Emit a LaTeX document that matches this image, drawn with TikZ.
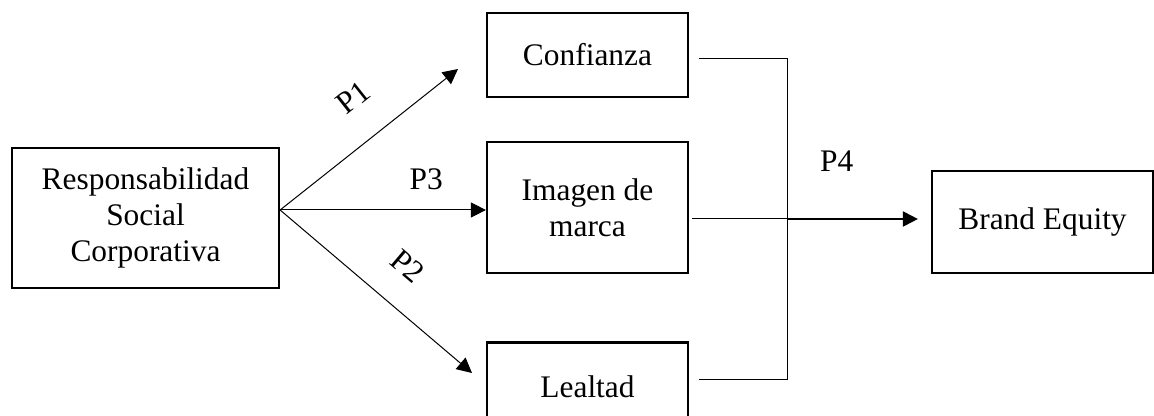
\documentclass[tikz,border=0pt]{standalone}
\usepackage{fontspec}
\setmainfont{Liberation Serif}
\usetikzlibrary{arrows.meta,positioning}

\begin{document}
\begin{tikzpicture}[
        x=0.5pt, y=-0.5pt,
        box/.style={rectangle, draw=black, line width=1.1pt, align=center,
            inner sep=2pt, font=\fontsize{15.7}{18}\selectfont},
        arr/.style={-{Triangle[length=7.5pt,width=7.5pt]}, line width=0.5pt},
        link/.style={line width=0.5pt},
        lbl/.style={font=\fontsize{15.7}{18}\selectfont, sloped, inner sep=1pt}
    ]
    \useasboundingbox (0,0) rectangle (1154,416);

    \node[box, minimum width=133.5pt, minimum height=70pt] (rsc) at (145.5,218)
        {Responsabilidad\\Social\\Corporativa};
    \node[box, minimum width=100.5pt, minimum height=42pt] (conf) at (587.5,55) {Confianza};
    \node[box, minimum width=100.5pt, minimum height=65.5pt, below=21.5pt of conf] (img)
        {Imagen de\\marca};
    \node[box, minimum width=100.5pt, minimum height=44pt, below=33.5pt of img] (leal) {Lealtad};
    \node[box, minimum width=110.5pt, minimum height=51pt] (be) at (1042.5,222) {Brand Equity};

    % hypotheses P1--P3
    \coordinate (src) at ([yshift=4pt]rsc.east);
    \coordinate (t1) at (458,69);
    \coordinate (t2) at (472,373);
    \draw[arr] (src) -- node[lbl, pos=0.56, above=15pt] {P1} (t1);
    \draw[arr] (src) -- node[lbl, pos=0.71, above=9pt] {P3} (src -| img.west);
    \draw[arr] (src) -- node[lbl, pos=0.53, above=13.5pt] {P2} (t2);

    % P4
    \coordinate (junc) at (787,219);
    \draw[link] ([xshift=5pt,yshift=-2pt]conf.east) -| (junc);
    \draw[link] ([xshift=5pt,yshift=3.5pt]leal.east) -| (junc);
    \draw[link] ([xshift=1.5pt]img.east |- junc) -- (junc);
    \draw[arr, line width=1pt] (junc) -- node[lbl, pos=0.38, above=22pt] {P4}
        ([xshift=-6.5pt]junc -| be.west);
\end{tikzpicture}
\end{document}
